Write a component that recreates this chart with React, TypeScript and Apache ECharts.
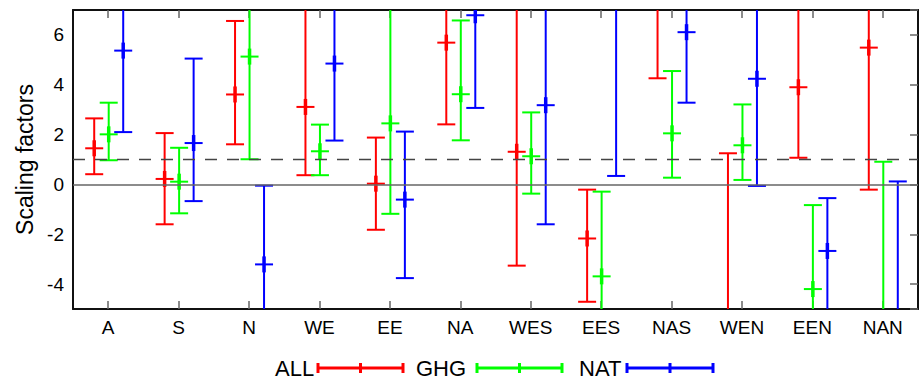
import React, { useEffect, useRef } from "react";
import * as echarts from "echarts";

const categories = ["A", "S", "N", "WE", "EE", "NA", "WES", "EES", "NAS", "WEN", "EEN", "NAN"];
const seriesNames = ["ALL", "GHG", "NAT"];
const seriesColors = ["#ff0000", "#00ff00", "#0000ff"];

// [low, best, high] per category (values beyond the plot range are estimates)
const allLow = [0.41, -1.6, 1.61, 0.37, -1.82, 2.41, -3.26, -4.71, 4.26, -8.0, 1.07, -0.21];
const allMid = [1.45, 0.22, 3.61, 3.11, 0.03, 5.69, 1.31, -2.17, 8.5, -5.6, 3.9, 5.49];
const allHigh = [2.65, 2.06, 6.56, 8.5, 1.88, 9.0, 8.0, -0.21, 12.0, 1.25, 7.5, 11.0];

const ghgLow = [0.97, -1.16, 1.01, 0.37, -1.18, 1.77, -0.37, -7.0, 0.27, 0.18, -7.5, -12.0];
const ghgMid = [2.01, 0.11, 5.13, 1.33, 2.45, 3.62, 1.13, -3.69, 2.05, 1.57, -4.2, -5.5];
const ghgHigh = [3.28, 1.47, 9.3, 2.4, 7.5, 6.58, 2.89, -0.29, 4.55, 3.21, -0.83, 0.91];

const natLow = [2.1, -0.67, -6.4, 1.76, -3.76, 3.07, -1.6, 0.34, 3.28, -0.06, -5.5, -12.0];
const natMid = [5.37, 1.66, -3.21, 4.85, -0.61, 6.79, 3.18, 7.6, 6.11, 4.24, -2.67, -6.0];
const natHigh = [8.6, 5.05, -0.05, 7.9, 2.12, 10.5, 7.9, 14.9, 8.9, 8.5, -0.55, 0.12];

const lows = [allLow, ghgLow, natLow];
const mids = [allMid, ghgMid, natMid];
const highs = [allHigh, ghgHigh, natHigh];

const offsets = [-14, 0.5, 15];
const FONT = "'Liberation Sans', Arial, sans-serif";

export default function App() {
  const ref = useRef<HTMLDivElement>(null);

  useEffect(() => {
    if (!ref.current) return;
    const chart = echarts.init(ref.current, undefined, { renderer: "svg" });

    const series: any[] = seriesNames.map((name, si) => {
      const data = categories.map((_, i) => [i, lows[si][i], mids[si][i], highs[si][i]]);
      const color = seriesColors[si];
      const off = offsets[si];
      const s: any = {
        name,
        type: "custom",
        clip: true,
        xAxisIndex: 0,
        yAxisIndex: 0,
        encode: { x: 0, y: [1, 2, 3] },
        data,
        renderItem: (params: any, api: any) => {
          const i = api.value(0);
          const pLo = api.coord([i, api.value(1)]);
          const pMid = api.coord([i, api.value(2)]);
          const pHi = api.coord([i, api.value(3)]);
          const cx = pLo[0] + off;
          const hw = 9;
          const st = { stroke: color, lineWidth: 2 };
          return {
            type: "group",
            children: [
              { type: "line", shape: { x1: cx, y1: pLo[1], x2: cx, y2: pHi[1] }, style: st },
              { type: "line", shape: { x1: cx - hw, y1: pLo[1], x2: cx + hw, y2: pLo[1] }, style: st },
              { type: "line", shape: { x1: cx - hw, y1: pHi[1], x2: cx + hw, y2: pHi[1] }, style: st },
              { type: "line", shape: { x1: cx - hw, y1: pMid[1], x2: cx + hw, y2: pMid[1] }, style: st },
              {
                type: "line",
                shape: { x1: cx, y1: pMid[1] - 8, x2: cx, y2: pMid[1] + 8 },
                style: { stroke: color, lineWidth: 3.5 },
              },
            ],
          };
        },
      };
      if (si === 0) {
        s.markLine = {
          silent: true,
          symbol: "none",
          label: { show: false },
          animation: false,
          data: [
            { yAxis: 1, lineStyle: { type: [12, 10], color: "#444", width: 1.3 } },
            { yAxis: 0, lineStyle: { type: "solid", color: "#666", width: 1.5 } },
          ],
        };
      }
      return s;
    });

    const legendText = [275, 416, 579];
    const legendLine = [
      [317, 404],
      [476, 563],
      [626, 714],
    ];
    const legendY = 368;
    const graphics: any[] = [];
    seriesNames.forEach((name, si) => {
      const color = seriesColors[si];
      const [x1, x2] = legendLine[si];
      const mx = (x1 + x2) / 2;
      graphics.push({
        type: "text",
        x: legendText[si],
        y: legendY,
        style: {
          text: name,
          fill: "#000",
          fontSize: 22,
          fontFamily: FONT,
          align: "left",
          verticalAlign: "middle",
        },
      });
      const ls = { stroke: color, lineWidth: 3 };
      graphics.push({ type: "line", shape: { x1, y1: legendY, x2, y2: legendY }, style: ls });
      [x1 + 1, mx, x2 - 1].forEach((x) => {
        graphics.push({
          type: "line",
          shape: { x1: x, y1: legendY - 5, x2: x, y2: legendY + 5 },
          style: ls,
        });
      });
    });

    const option: any = {
      animation: false,
      backgroundColor: "#fff",
      textStyle: { fontFamily: FONT },
      grid: { left: 73, right: 4, top: 10, bottom: 74, containLabel: false, outerBoundsMode: "none" },
      xAxis: [
        {
          type: "category",
          data: categories,
          position: "bottom",
          axisLine: { show: true, onZero: false, lineStyle: { color: "#111", width: 2 } },
          axisTick: { show: true, inside: true, alignWithLabel: true, length: 8, lineStyle: { color: "#666", width: 1.5 } },
          axisLabel: { color: "#000", fontSize: 19, fontFamily: FONT, margin: 9 },
          splitLine: { show: false },
        },
        {
          type: "category",
          data: categories,
          position: "top",
          axisLine: { show: true, onZero: false, lineStyle: { color: "#111", width: 2 } },
          axisTick: { show: true, inside: true, alignWithLabel: true, length: 8, lineStyle: { color: "#666", width: 1.5 } },
          axisLabel: { show: false },
          splitLine: { show: false },
        },
      ],
      yAxis: [
        {
          type: "value",
          min: -5,
          max: 7,
          splitNumber: 6,
          position: "left",
          name: "Scaling factors",
          nameLocation: "middle",
          nameGap: 37,
          nameTextStyle: { color: "#000", fontSize: 23, fontFamily: FONT },
          axisLine: { show: true, onZero: false, lineStyle: { color: "#111", width: 2 } },
          axisTick: { show: false },
          axisLabel: { color: "#000", fontSize: 19, fontFamily: FONT, margin: 9, showMinLabel: false, showMaxLabel: false },
          splitLine: { show: false },
        },
        {
          type: "value",
          min: -5,
          max: 7,
          splitNumber: 6,
          position: "right",
          axisLine: { show: true, onZero: false, lineStyle: { color: "#111", width: 2 } },
          axisTick: { show: true, inside: true, length: 8, lineStyle: { color: "#666", width: 1.5 } },
          axisLabel: { show: false },
          splitLine: { show: false },
        },
      ],
      series,
      graphic: graphics,
    };

    chart.setOption(option);
    return () => chart.dispose();
  }, []);

  return (
    <div
      ref={ref}
      style={{ position: "absolute", left: 0, top: 0, width: 922, height: 383, background: "#fff" }}
    />
  );
}
